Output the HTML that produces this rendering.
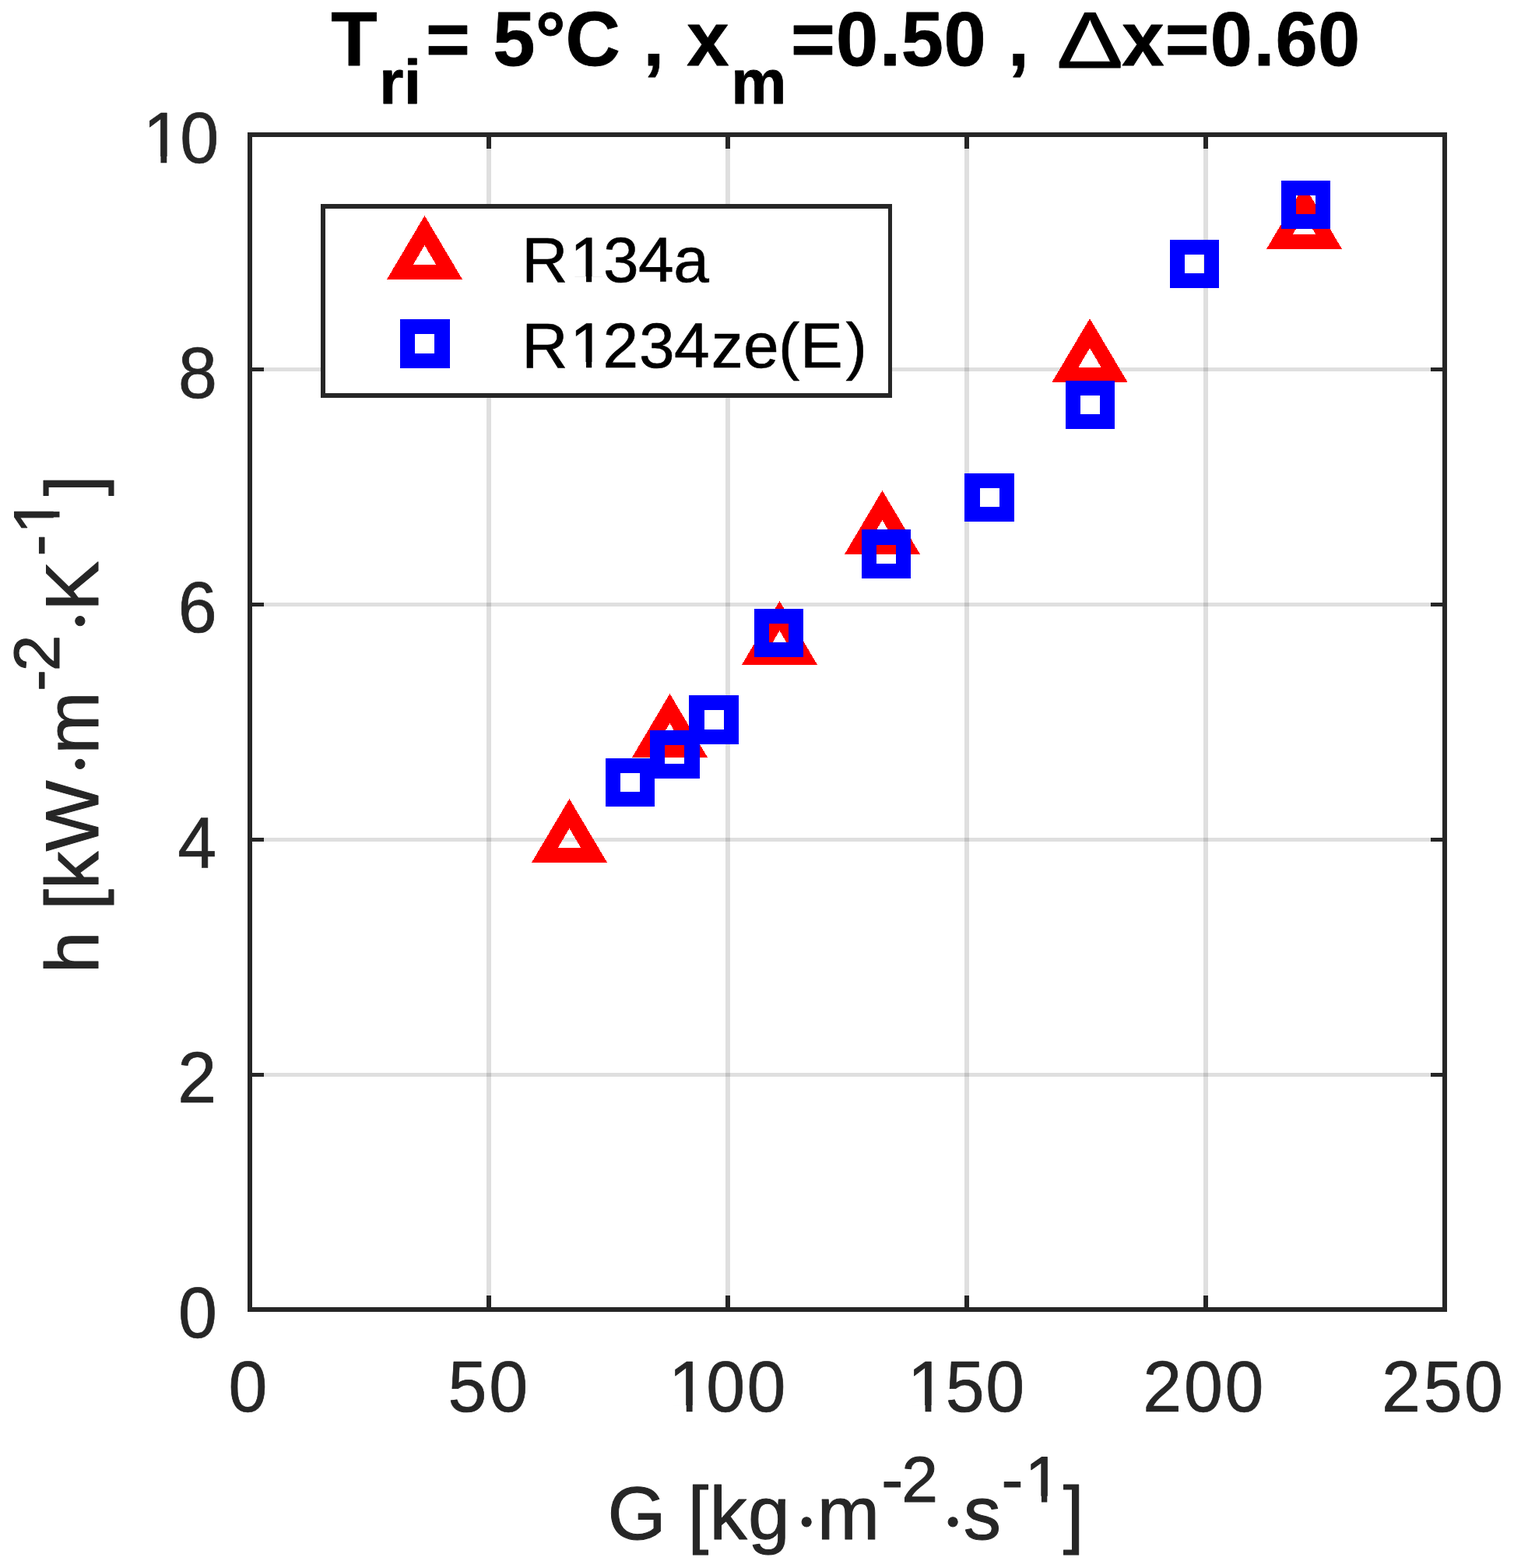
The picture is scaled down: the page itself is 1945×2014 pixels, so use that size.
<!DOCTYPE html>
<html lang="en">
<head>
<meta charset="utf-8">
<title>Heat transfer coefficient versus mass flux</title>
<style>
html,body{margin:0;padding:0;background:#fff;}
body{width:1945px;height:2014px;overflow:hidden;}
svg{display:block;}
text{font-family:"Liberation Sans",sans-serif;white-space:pre;}
.tk{font-size:92.4px;fill:#262626;stroke:#262626;stroke-width:0.7px;stroke-linejoin:round;}
.lab{font-size:96.5px;fill:#262626;stroke:#262626;stroke-width:1px;stroke-linejoin:round;}
.sup{font-size:84.0px;}
.leg{font-size:82.0px;fill:#000;stroke:#000;stroke-width:0.6px;stroke-linejoin:round;}
.ttl{font-size:97.4px;font-weight:bold;fill:#000;stroke:#000;stroke-width:0.8px;stroke-linejoin:round;}
.sub{font-size:80.0px;}
.dl{font-size:102.8px;font-weight:normal;fill:#000;}
.dot{font-family:"Liberation Serif",serif;font-size:103.0px;}
.crisp{shape-rendering:crispEdges;}
</style>
</head>
<body>
<svg width="1945" height="2014" viewBox="0 0 1945 2014">
<rect width="1945" height="2014" fill="#fff"/>

<g class="crisp" fill="#262626" fill-opacity="0.15">
<rect x="625" y="176" width="6" height="1503"/>
<rect x="932" y="176" width="6" height="1503"/>
<rect x="1239" y="176" width="6" height="1503"/>
<rect x="1546" y="176" width="6" height="1503"/>
<rect x="324" y="1378" width="1529" height="5"/>
<rect x="324" y="1076" width="1529" height="5"/>
<rect x="324" y="774" width="1529" height="5"/>
<rect x="324" y="472" width="1529" height="5"/>
</g>
<g class="crisp" fill="#262626">
<rect x="625" y="1664" width="6" height="18"/>
<rect x="625" y="173" width="6" height="18"/>
<rect x="932" y="1664" width="6" height="18"/>
<rect x="932" y="173" width="6" height="18"/>
<rect x="1239" y="1664" width="6" height="18"/>
<rect x="1239" y="173" width="6" height="18"/>
<rect x="1546" y="1664" width="6" height="18"/>
<rect x="1546" y="173" width="6" height="18"/>
<rect x="321" y="1378" width="18" height="5"/>
<rect x="1838" y="1378" width="18" height="5"/>
<rect x="321" y="1076" width="18" height="5"/>
<rect x="1838" y="1076" width="18" height="5"/>
<rect x="321" y="774" width="18" height="5"/>
<rect x="1838" y="774" width="18" height="5"/>
<rect x="321" y="472" width="18" height="5"/>
<rect x="1838" y="472" width="18" height="5"/>
</g>
<rect class="crisp" x="321" y="173" width="1535" height="1509" fill="none" stroke="#262626" stroke-width="6"/>
<g class="crisp" fill="#ff0000" fill-rule="evenodd">
<path d="M731.5 1026L780.1 1108H682.9ZM731.5 1064L746.2 1089H716.8Z"/>
<path d="M860.5 891L909.1 973H811.9ZM860.5 929L875.2 954H845.8Z"/>
<path d="M1001.5 772L1050.1 854H952.9ZM1001.5 810L1016.2 835H986.8Z"/>
<path d="M1133.5 630L1182.1 712H1084.9ZM1133.5 668L1148.2 693H1118.8Z"/>
<path d="M1400 409L1448.6 491H1351.4ZM1400 447L1414.7 472H1385.3Z"/>
<path d="M1675.5 238L1724.1 320H1626.9ZM1675.5 276L1690.2 301H1660.8Z"/>
</g>
<g class="crisp" fill="#0000ff" fill-rule="evenodd">
<path d="M778 974H841V1036H778ZM797 993H822V1017H797Z"/>
<path d="M835 938H899V1000H835ZM854 957H879V981H854Z"/>
<path d="M885 893H949V956H885ZM905 912H930V937H905Z"/>
<path d="M969 782H1032V844H969ZM988 801H1013V825H988Z"/>
<path d="M1107 680H1170V743H1107ZM1126 700H1151V724H1126Z"/>
<path d="M1239 608H1303V670H1239ZM1259 627H1284V651H1259Z"/>
<path d="M1369 489H1432V551H1369ZM1388 508H1413V532H1388Z"/>
<path d="M1503 308H1566V370H1503ZM1522 327H1547V351H1522Z"/>
<path d="M1646 232H1709V294H1646ZM1665 251H1690V275H1665Z"/>
</g>
<rect class="crisp" x="412" y="262" width="734" height="249" fill="#fff"/>
<path class="crisp" fill="#262626" fill-rule="evenodd" d="M412 262H1146V511H412ZM418 268H1141V505H418Z"/>
<g class="crisp" fill="#ff0000" fill-rule="evenodd"><path d="M545.5 277L594.1 359H496.9ZM545.5 315L560.2 340H530.8Z"/></g>
<g class="crisp" fill="#0000ff" fill-rule="evenodd"><path d="M514 410H578V473H514ZM533 429H558V454H533Z"/></g>
<text class="leg" x="670.32 732.32 774.95 819.88 865.25" y="362.1">R134a</text><g fill="#fff"><rect x="736.42" y="355.13" width="16.61" height="8.2"/><rect x="760.2" y="355.13" width="15.58" height="8.2"/></g>
<text class="leg" x="670.32 732.32 774.5 821.05 865.95 913.86 955 1000.06 1027.99 1086.57" y="471.9">R1234ze(E)</text><g fill="#fff"><rect x="736.42" y="464.93" width="16.61" height="8.2"/><rect x="760.2" y="464.93" width="15.58" height="8.2"/></g>
<text class="tk" transform="scale(0.972 1)" x="302" y="1812.9">0</text>
<text class="tk" transform="scale(0.972 1)" x="592.05 646.31" y="1812.9">50</text>
<text class="tk" transform="scale(0.972 1)" x="883.81 933.4 987.21" y="1812.9">100</text><g fill="#fff" transform="scale(0.972 1)"><rect x="888.43" y="1805.05" width="18.71" height="9.24"/><rect x="915.23" y="1805.05" width="17.56" height="9.24"/></g>
<text class="tk" transform="scale(0.972 1)" x="1199.45 1249.72 1302.84" y="1812.9">150</text><g fill="#fff" transform="scale(0.972 1)"><rect x="1204.07" y="1805.05" width="18.71" height="9.24"/><rect x="1230.86" y="1805.05" width="17.56" height="9.24"/></g>
<text class="tk" transform="scale(0.972 1)" x="1510.57 1564.78 1618.74" y="1812.9">200</text>
<text class="tk" transform="scale(0.972 1)" x="1826.21 1881.41 1935.1" y="1812.9">250</text>
<text class="tk" transform="scale(0.972 1)" x="235.71" y="1717.8">0</text>
<text class="tk" transform="scale(0.972 1)" x="234.85" y="1416">2</text>
<text class="tk" transform="scale(0.972 1)" x="234.83" y="1114.2">4</text>
<text class="tk" transform="scale(0.972 1)" x="235.28" y="812.4">6</text>
<text class="tk" transform="scale(0.972 1)" x="235.62" y="510.6">8</text>
<text class="tk" transform="scale(0.972 1)" x="189.06 238.03" y="208.8">10</text><g fill="#fff" transform="scale(0.972 1)"><rect x="193.68" y="200.95" width="18.71" height="9.24"/><rect x="220.47" y="200.95" width="17.56" height="9.24"/></g>
<text class="lab"><tspan x="780.44 809.39 883.47 911.52 961.09" y="1976.8">G [kg</tspan><tspan class="dot" x="1018.95" y="1989.04">·</tspan><tspan x="1049.66" y="1976.8">m</tspan><tspan class="sup" x="1132.13 1158.34" y="1928.8">-2</tspan><tspan class="dot" x="1207" y="1989.04">·</tspan><tspan x="1237.69" y="1976.8">s</tspan><tspan class="sup" x="1286.38 1316.74" y="1928.8">-1</tspan><tspan x="1365.63" y="1976.8">]</tspan></text><g fill="#fff"><rect x="1320.94" y="1921.66" width="17.01" height="8.4"/><rect x="1345.3" y="1921.66" width="15.96" height="8.4"/></g>
<text class="lab" transform="translate(0 1242.9) rotate(-90)"><tspan x="-7.32 21.63 74.12 100.92 149.35" y="125.9">h [kW</tspan><tspan class="dot" x="244.5" y="137.19">·</tspan><tspan x="274.26" y="125.9">m</tspan><tspan class="sup" x="354.94 380.69" y="75.9">-2</tspan><tspan class="dot" x="428.15" y="137.19">·</tspan><tspan x="457.82" y="125.9">K</tspan><tspan class="sup" x="528.53 557.24" y="75.9">-1</tspan><tspan x="605.73" y="125.9">]</tspan></text><g fill="#fff" transform="translate(0 1242.9) rotate(-90)"><rect x="561.44" y="68.76" width="17.01" height="8.4"/><rect x="585.8" y="68.76" width="15.96" height="8.4"/></g>
<text class="ttl"><tspan x="425.19" y="83.9">T</tspan><tspan class="sub" x="487.35 518.85" y="132.7">ri</tspan><tspan x="546.91 576.13 633.18 687.85 726.61 755.83 826.31 855.53 882.32" y="83.9">= 5°C , x</tspan><tspan class="sub" x="939.15" y="132.7">m</tspan><tspan x="1015.91 1074.12 1129.89 1157.78 1212.62 1241.84 1294.96 1324.18" y="83.9">=0.50 , </tspan><tspan class="dl" x="1357.21" y="86.6" textLength="85.84" lengthAdjust="spacingAndGlyphs">Δ</tspan><tspan x="1441.32 1496.81 1554.77 1610.49 1638.4 1692.92" y="83.9">x=0.60</tspan></text>
</svg>
</body>
</html>
